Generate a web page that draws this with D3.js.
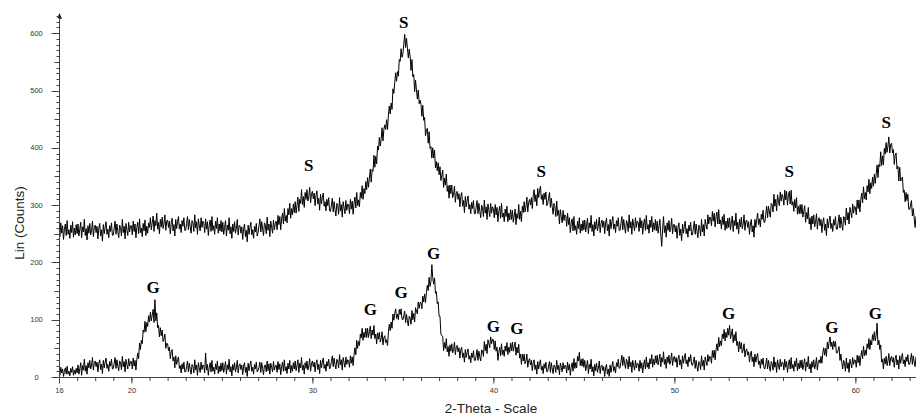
<!DOCTYPE html>
<html><head><meta charset="utf-8">
<script src="https://cdn.jsdelivr.net/npm/d3@7"></script>
<style>
html,body{margin:0;padding:0;background:#fff;}
svg{display:block;}
</style></head>
<body>
<svg id="chart" width="916" height="415"></svg>
<script>
// ---- data ----
const thetaStart = 16.0;
const thetaStep = 0.05;
// upper pattern (S sample), counts at 16.00, 16.05, ... 63.40 (one row per degree)
const upperCounts = [
261,245,269,251,264,240,258,267,247,273,249,257,242,265,252,271,244,260,248,266,
250,267,246,258,270,243,262,253,275,247,259,239,264,251,268,248,256,272,245,261,
265,252,263,241,260,268,246,257,237,266,250,262,271,249,258,243,264,254,269,247,
248,260,272,249,267,254,243,265,261,246,275,252,263,241,268,257,247,270,253,264,
264,248,272,254,267,243,261,270,250,276,252,260,245,268,255,274,247,263,251,269,
261,278,257,269,281,254,273,264,286,258,270,250,275,262,279,259,267,283,256,272,
274,261,272,250,269,277,255,266,246,275,259,271,280,258,267,252,273,263,278,256,
256,268,280,257,275,262,251,273,269,254,283,260,271,249,276,265,255,278,261,272,
268,252,276,258,271,247,265,274,254,280,256,264,249,272,259,278,251,267,255,273,
253,270,249,261,273,246,265,256,278,250,262,242,267,254,271,251,259,275,248,264,
264,251,262,240,259,267,245,256,236,265,249,261,270,248,257,242,263,253,268,246,
252,264,276,253,271,258,247,269,265,250,279,256,267,245,272,261,251,274,257,268,
272,257,282,266,280,257,276,286,267,294,272,282,269,294,283,303,277,294,283,302,
287,306,286,300,314,289,310,303,327,301,315,296,322,310,327,307,315,331,304,320,
324,311,321,299,317,325,302,312,291,319,302,313,321,298,306,290,310,299,313,290,
289,300,312,288,306,292,281,303,299,284,313,290,301,279,306,295,285,308,291,302,
300,285,310,293,307,284,303,314,295,322,299,309,297,322,312,334,310,329,320,341,
327,348,331,347,363,340,362,359,387,366,385,372,403,396,418,403,415,435,412,432,
440,432,449,432,457,473,459,478,467,503,495,514,531,516,533,525,554,551,573,558,
564,581,598,575,591,574,557,572,560,535,554,524,528,498,518,501,485,501,477,483,
476,455,474,448,453,421,431,434,408,428,399,402,382,400,382,396,365,376,360,374,
353,367,343,352,361,331,347,335,354,324,334,312,335,320,335,313,319,333,305,320,
324,310,320,297,315,322,298,308,287,315,297,308,316,293,301,285,305,294,308,285,
285,297,308,285,303,289,278,300,295,280,309,286,297,275,302,291,280,303,286,297,
294,278,301,283,296,271,289,298,277,303,279,286,271,293,280,298,271,286,274,292,
275,291,270,281,293,266,285,277,301,275,289,271,298,287,306,288,297,314,288,305,
310,300,313,294,316,327,306,318,299,329,313,325,333,310,318,301,321,310,323,299,
302,312,322,296,312,297,284,303,297,280,307,282,291,267,292,280,269,291,273,283,
281,263,286,266,278,252,269,276,255,280,256,264,249,272,259,278,251,267,255,273,
257,274,253,265,277,250,269,260,282,254,266,246,271,258,275,255,263,279,252,268,
274,261,272,250,269,277,255,266,246,275,259,271,280,258,267,252,273,263,278,256,
256,268,280,257,275,262,251,273,269,254,283,260,271,249,276,265,255,278,261,272,
270,254,278,260,273,249,267,276,256,282,258,266,251,274,261,280,253,269,257,275,
255,272,251,263,275,248,228,258,280,252,264,244,269,256,273,253,261,277,250,266,
266,253,264,242,261,269,247,258,238,267,251,263,272,250,259,244,265,255,270,248,
248,260,272,249,267,254,243,265,261,246,275,253,266,246,275,266,258,283,267,279,
278,264,289,272,286,262,280,288,267,292,267,274,258,280,266,284,256,272,259,277,
261,278,257,269,281,254,273,264,286,258,270,250,275,262,279,259,267,283,256,272,
274,261,271,249,267,275,253,264,244,275,261,275,286,266,276,262,284,275,291,270,
270,284,298,278,298,288,279,303,301,288,319,298,310,290,318,308,299,323,307,319,
314,300,326,309,324,300,317,324,302,326,300,306,289,310,295,313,284,298,285,301,
285,301,279,289,299,270,287,276,296,267,278,257,281,267,283,262,270,285,258,274,
278,264,275,252,271,278,256,267,247,276,260,272,281,259,268,254,275,265,280,258,
258,270,283,260,279,266,256,280,278,265,295,274,287,267,296,287,278,302,286,298,
296,283,309,294,309,288,309,321,304,332,311,322,309,334,323,345,320,339,329,349,
333,354,338,354,370,348,371,367,393,369,386,370,399,389,409,392,403,419,391,406,
408,391,397,371,387,391,363,368,342,366,342,345,349,322,326,306,322,308,319,293,
292,300,308,281,294,277,261,280,273
];
// lower pattern (G sample), same sampling
const lowerCounts = [
12,3,17,7,14,1,10,16,5,19,5,10,2,15,8,18,3,12,5,15,
7,21,5,14,25,3,20,12,31,10,20,5,25,16,29,14,21,34,12,25,
28,18,26,9,24,30,13,22,6,29,16,26,33,15,22,10,27,19,31,14,
15,24,34,15,30,19,11,28,25,13,36,18,27,9,31,22,14,32,19,27,
27,14,33,19,29,12,30,42,32,59,48,64,58,82,78,97,79,95,88,107,
96,113,98,108,118,95,135,98,112,86,90,70,86,72,82,62,66,75,50,59,
58,46,52,32,44,48,28,35,16,37,22,30,35,15,20,7,23,14,26,9,
9,18,28,9,24,13,5,22,19,7,30,12,21,3,25,16,8,26,13,21,
20,7,42,12,22,3,17,25,9,29,10,17,5,23,13,28,6,19,9,24,
11,25,8,17,27,5,21,13,31,9,18,2,22,12,25,9,16,29,7,20,
23,13,21,4,19,25,8,17,1,24,11,21,28,10,17,5,22,14,26,9,
11,17,26,8,25,15,4,20,21,9,28,11,23,5,24,17,9,27,12,19,
21,8,27,13,23,4,18,26,10,30,11,18,6,24,14,29,7,20,10,25,
14,28,11,20,30,8,24,16,34,12,21,5,25,15,28,12,19,32,10,23,
28,18,26,9,24,30,13,22,6,29,16,26,33,15,22,10,27,19,31,14,
18,27,37,18,33,22,14,31,28,16,39,21,30,12,34,25,17,35,22,30,
29,17,37,24,35,20,38,51,39,64,50,62,55,75,68,85,64,78,69,85,
69,85,69,79,89,67,82,73,90,67,75,58,77,66,78,61,67,79,56,69,
72,60,65,55,78,92,81,96,85,110,99,111,119,102,110,100,118,109,119,101,
100,107,115,95,109,98,89,106,103,92,116,100,111,96,121,115,110,131,120,130,
130,119,141,131,145,130,147,160,151,174,158,167,196,173,162,173,146,149,128,131,
106,106,75,72,71,46,60,50,67,44,53,36,56,45,58,42,48,61,39,52,
55,44,51,33,47,52,34,42,26,48,34,43,49,31,37,25,42,34,46,29,
29,38,48,29,45,35,28,47,46,36,62,46,57,41,65,58,51,70,58,66,
65,48,63,45,52,29,43,52,37,58,39,47,36,54,45,60,39,52,43,59,
46,61,45,53,61,38,52,42,57,33,40,22,40,28,40,23,28,40,17,29,
32,21,29,11,25,30,13,21,5,27,14,24,30,12,19,6,23,15,26,9,
10,19,27,8,25,14,6,21,18,8,29,13,20,4,24,17,9,25,14,20,
20,7,26,12,22,3,17,25,10,32,15,25,16,36,28,43,20,31,19,32,
17,29,11,19,29,6,22,14,31,9,18,2,22,11,24,8,15,28,6,19,
21,11,18,1,16,22,5,14,1,21,8,19,27,10,18,7,25,18,31,15,
16,27,38,20,35,24,15,31,27,14,36,18,26,8,29,20,12,29,16,24,
23,10,29,15,25,7,21,30,14,35,17,25,14,32,23,39,17,31,21,37,
24,38,21,30,40,18,34,26,44,22,31,15,35,25,38,22,29,42,20,33,
36,26,34,17,32,38,21,30,14,37,24,34,41,23,30,18,35,27,39,22,
20,27,35,15,29,18,10,27,25,13,37,19,29,12,35,27,20,39,27,36,
35,24,46,34,47,30,47,58,46,69,53,63,55,75,67,83,63,78,69,85,
73,90,67,75,84,60,74,63,79,55,62,44,62,49,60,42,47,58,35,46,
49,38,44,26,40,45,27,35,18,40,26,35,41,22,28,15,31,22,33,16,
14,23,33,14,29,18,10,27,24,12,35,17,26,8,30,21,13,31,18,26,
25,12,31,17,27,8,22,30,14,34,15,22,10,28,18,33,11,24,14,29,
16,30,13,22,32,10,26,18,36,14,23,7,27,17,30,14,21,34,12,25,
30,24,36,24,42,51,38,50,36,61,49,61,70,53,61,48,63,53,62,42,
42,47,53,29,40,25,14,29,24,10,33,15,25,8,31,23,16,34,22,30,
29,17,38,25,37,20,36,46,32,54,37,47,38,58,50,67,48,64,56,74,
64,79,63,73,94,56,64,48,56,26,31,14,33,23,36,20,28,41,20,33,
36,26,34,17,32,38,21,30,14,37,24,34,41,23,30,18,35,27,39,22,
22,31,41,22,37,26,18,35,32
];
// peak annotations: position (2-theta) and label height (counts)
const sLabelTheta  = [29.8, 35.05, 42.65, 56.35, 61.7];
const sLabelCounts = [370, 620, 360, 360, 445];
const gLabelTheta  = [21.2, 33.2, 34.9, 36.7, 40.0, 41.3, 53.0, 58.7, 61.1];
const gLabelCounts = [157, 119, 148, 216, 89, 86, 112, 87, 112];
const xTickLabels = [16, 20, 30, 40, 50, 60];
const yTickLabels = [0, 100, 200, 300, 400, 500, 600];
const xTitle = "2-Theta - Scale";
const yTitle = "Lin (Counts)";

// ---- drawing ----
const W = 916, H = 415;
const svg = d3.select("#chart");
const x = d3.scaleLinear().domain([16, 63.35]).range([59, 916]);
const y = d3.scaleLinear().domain([0, 600]).range([377, 33.2]);
const axisColor = "#444";
const labelFont = "'Liberation Sans', Arial, sans-serif";

svg.append("clipPath").attr("id","plotclip").append("rect")
  .attr("x", 59).attr("y", 0).attr("width", W-59).attr("height", 377.5);

const line = d3.line()
  .x((d,i) => x(thetaStart + i*thetaStep))
  .y(d => y(d));

const g = svg.append("g").attr("clip-path","url(#plotclip)");
[upperCounts, lowerCounts].forEach(arr => {
  g.append("path").datum(arr)
    .attr("d", line)
    .attr("fill","none")
    .attr("stroke","#000")
    .attr("stroke-width",1.0)
    .attr("stroke-linejoin","miter");
});

// x axis: minor ticks every 1 degree
const xMinor = d3.range(16, 64, 1);
const xAxisMinor = d3.axisBottom(x).tickValues(xMinor).tickSize(4).tickSizeOuter(0).tickFormat("");
const gxm = svg.append("g").attr("transform","translate(0,377)").call(xAxisMinor);
gxm.select(".domain").attr("d", `M${59},0.5H${W}`);
const xAxisMajor = d3.axisBottom(x).tickValues(xTickLabels).tickSize(6.5).tickSizeOuter(0).tickFormat(d3.format("d"));
const gxM = svg.append("g").attr("transform","translate(0,377)").call(xAxisMajor);
gxM.select(".domain").remove();
[gxm, gxM].forEach(a => {
  a.selectAll("line").attr("stroke", axisColor);
  a.selectAll("path").attr("stroke", axisColor);
});
gxM.selectAll("text").attr("y", 13).attr("dy", "0.35em")
  .attr("font-family", labelFont).attr("font-size", 7.5).attr("fill", "#333");

// y axis
const yTop = 15;
svg.append("line").attr("x1",59.5).attr("x2",59.5).attr("y1",377).attr("y2",yTop)
  .attr("stroke",axisColor).attr("stroke-width",1);
svg.append("path").attr("d", `M59.5,${yTop-2}L62,${yTop+4}L57.5,${yTop+3}Z`).attr("fill","#111");
const yMinor = d3.range(0, 640, 10);
const gy = svg.append("g");
yMinor.forEach(v => {
  const len = (v % 100 === 0) ? 8 : (v % 50 === 0 ? 5 : 3);
  gy.append("line").attr("x1", 59.5 - len).attr("x2", 59.5)
    .attr("y1", Math.round(y(v))+0.5).attr("y2", Math.round(y(v))+0.5)
    .attr("stroke", axisColor).attr("stroke-width",1);
});
gy.selectAll("text.ylab").data(yTickLabels).enter().append("text")
  .attr("class","ylab")
  .attr("x", 36.5).attr("y", d => y(d)).attr("dy","0.35em")
  .attr("text-anchor","middle")
  .attr("font-family", labelFont).attr("font-size", 7.5).attr("fill","#333")
  .text(d => d);

// axis titles
svg.append("text").attr("x", 491).attr("y", 413)
  .attr("text-anchor","middle").attr("font-family", labelFont)
  .attr("font-size", 13.5).attr("fill","#222").text(xTitle);
svg.append("text").attr("transform", "translate(24,223) rotate(-90)")
  .attr("text-anchor","middle").attr("font-family", labelFont)
  .attr("font-size", 13.5).attr("fill","#222").text(yTitle);

// peak labels
const letterFont = "'Liberation Serif', 'Times New Roman', serif";
function addLabels(thetas, counts, letter){
  svg.selectAll(null).data(thetas).enter().append("text")
    .attr("x", d => x(d)).attr("y", (d,i) => y(counts[i]))
    .attr("dy","0.35em")
    .attr("text-anchor","middle")
    .attr("font-family", letterFont).attr("font-weight","bold")
    .attr("font-size", 17).attr("fill","#000")
    .text(letter);
}
addLabels(sLabelTheta, sLabelCounts, "S");
addLabels(gLabelTheta, gLabelCounts, "G");
</script>
</body></html>
